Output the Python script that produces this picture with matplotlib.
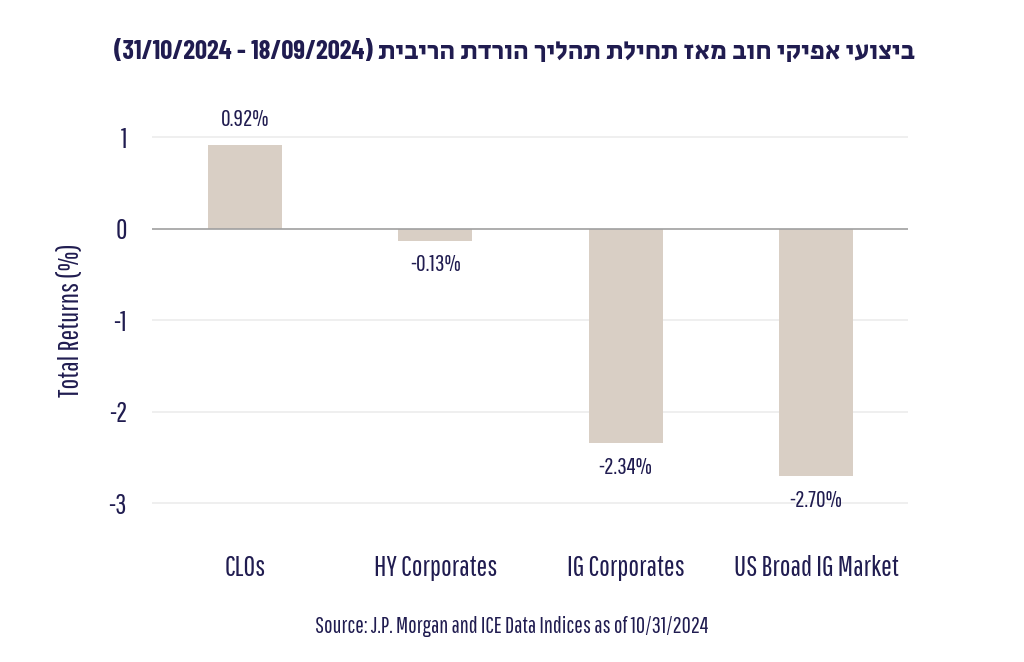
import matplotlib.pyplot as plt
from matplotlib import font_manager as fm
import numpy as np

categories = ["CLOs", "HY Corporates", "IG Corporates", "US Broad IG Market"]
returns = [0.92, -0.13, -2.34, -2.70]
value_labels = ["0.92%", "-0.13%", "-2.34%", "-2.70%"]
yticks = [1, 0, -1, -2, -3]

title_he = "ביצועי אפיקי חוב מאז תחילת תהליך הורדת הריבית"
title_dates = "(31/10/2024 - 18/09/2024)"
source = "Source: J.P. Morgan and ICE Data Indices as of 10/31/2024"

navy = "#201c50"
bar_color = "#d9cfc5"

# pick condensed fonts if they are there, else fall back to DejaVu
avail = set(f.name for f in fm.fontManager.ttflist)
def pick(*names):
    fams = [n for n in names if n in avail]
    return fams + ["DejaVu Sans"]

body_font = pick("Pathway Gothic One", "Barlow Condensed")
title_font = pick("Barlow Condensed", "Secular One", "Heebo")
plt.rcParams['font.family'] = body_font

fig = plt.figure(figsize=(10.24, 6.62), dpi=100)
ax = fig.add_axes([152 / 1024, 0.198, 756 / 1024, 0.636])

x = np.arange(len(categories))
ax.bar(x, returns, width=0.39, color=bar_color, zorder=2)

for xi, v, lab in zip(x, returns, value_labels):
    off = 25 if v >= 0 else -24
    ax.annotate(lab, (xi, v), xytext=(0, off * 0.72), textcoords="offset points",
                ha="center", va="center", fontsize=17, color=navy)

ax.set_xlim(-0.488, 3.483)
ax.set_ylim(-3.3, 1.3)
ax.set_yticks(yticks)
ax.set_yticklabels([str(t) for t in yticks])
ax.set_xticks(x)
ax.set_xticklabels(categories)
ax.tick_params(axis="both", length=0, colors=navy, labelsize=20)
ax.tick_params(axis="x", labelsize=20.5, pad=17)
ax.tick_params(axis="y", pad=18)

for t in yticks:
    if t == 0:
        ax.axhline(0, color="#a0a0a0", lw=1.2, zorder=3)
    else:
        ax.axhline(t, color="#ececec", lw=1.2, zorder=1)

for s in ax.spines.values():
    s.set_visible(False)

ax.set_ylabel("Total Returns (%)", fontsize=20.5, color=navy, labelpad=18)

# matplotlib has no bidi support, so the Hebrew part is written in visual order
fig.text(0.502, 0.922, title_dates + " " + title_he[::-1], ha="center", va="center",
         fontsize=19.2, fontweight="bold", color=navy, family=title_font)
fig.text(0.5, 0.053, source, ha="center", va="center", fontsize=16.3, color=navy)

fig.savefig("out.png", dpi=100, facecolor="white")
